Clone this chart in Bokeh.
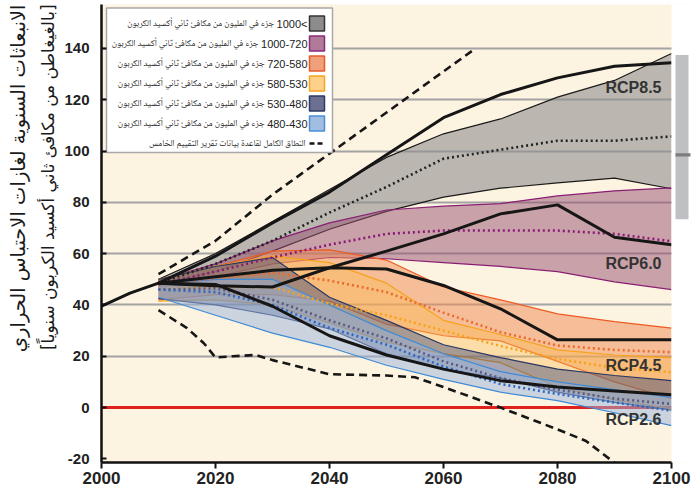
import math
from bokeh.plotting import figure
from bokeh.models import Range1d, FixedTicker, Title
from bokeh.core.properties import value
from bokeh.embed import file_html
from bokeh.resources import INLINE

# ---------------- data ----------------
hist_years = [2000, 2005, 2010]
hist_vals = [39.5, 44.6, 48.5]

years = [2010, 2020, 2030, 2040, 2050, 2060, 2070, 2080, 2090, 2100]

gray_hi = [50, 60, 72.5, 85, 97.5, 106.7, 112.5, 121, 127.5, 138]
gray_lo = [48, 53, 61, 69.5, 76.5, 82, 85.5, 87.6, 89.4, 85.3]
gray_med = [48.5, 56, 65, 76, 86, 97, 100.5, 104, 104, 105.7]

purple_hi = [49.5, 56, 65, 72, 77, 78.5, 79.5, 82.5, 84.5, 85.6]
purple_lo = [47, 51, 56, 58.5, 58, 56.5, 55, 53, 49, 46]
purple_med = [48, 53, 58.5, 63.5, 67.7, 69, 69, 69, 67.7, 64.8]

orange_hi = [50, 55, 61, 61.5, 57.5, 47, 42, 36.5, 33.5, 31]
orange_lo = [42, 44, 44, 41.5, 32.5, 28, 26, 18, 10, 3.5]
orange_med = [48, 50.5, 52.5, 49.5, 45, 37, 29.4, 24.2, 22.5, 21.6]

yellow_hi = [50, 55, 59, 56.5, 48.5, 34, 28.5, 22.5, 20.5, 19.5]
yellow_lo = [41.5, 42, 40, 33, 25.5, 21, 17.5, 8, 3, -0.5]
yellow_med = [46, 47, 47, 40.5, 36, 30, 24, 19, 15.5, 13.8]

navy_hi = [50, 55, 58.5, 43, 34, 24.5, 19.5, 15, 12.5, 10.5]
navy_lo = [42.5, 40, 36, 30.7, 21, 15, 11.5, 6, 2, -1]
navy_med = [46, 46.5, 42, 34, 27, 18, 11.5, 7, 3.5, 1.4]

blue_hi = [48, 50, 50, 40, 30, 21, 14, 10, 7, 4]
blue_lo = [43, 36, 29, 23.5, 16.5, 11, 6, 2.7, -2, -7]
blue_med = [46, 45, 40, 31, 24.5, 16, 9.2, 5.3, 2, -1.2]

rcp85 = [48.5, 59, 72, 84, 98.5, 113, 122, 128.5, 133, 134.4]
rcp60 = [48.5, 47.5, 47, 54.5, 61, 67.7, 75.5, 79, 66.4, 63.5]
rcp45 = [48.5, 51, 53.5, 54.5, 54, 47.6, 38.5, 26.4, 26.4, 26.4]
rcp26 = [48.5, 48, 39.5, 28, 20.5, 15, 10.5, 8, 6.5, 5]

dash_hi_years = [2010, 2020, 2030, 2040, 2050, 2060, 2065]
dash_hi = [52, 65, 83, 99, 115, 131, 139]
dash_lo_years = [2010, 2015, 2018, 2020, 2023, 2027, 2030, 2040, 2050, 2055, 2060, 2070, 2080, 2085, 2090]
dash_lo = [38, 31, 25, 19.5, 20, 20.5, 18.5, 13, 12.5, 11.8, 8, 0, -8.5, -13, -21.5]

zero_level = 0
side_bar = [73.4, 137.4]   # range bar drawn beyond 2100
side_bar_mark = 98.5

x_ticks = [2000, 2020, 2040, 2060, 2080, 2100]
y_ticks = [-20, 0, 20, 40, 60, 80, 100, 120, 140]

rcp_labels = ["RCP8.5", "RCP6.0", "RCP4.5", "RCP2.6"]
rcp_label_vals = [124.8, 56.1, 16.5, -4.7]

legend_nums = ["1000<", "1000-720", "720-580", "580-530", "530-480", "480-430"]
legend_text = "جزء في المليون من مكافئ ثاني أكسيد الكربون"
dash_label = "النطاق الكامل لقاعدة بيانات تقرير التقييم الخامس"
ylabel1 = "الانبعاثات السنوية لغازات الاحتباس الحراري"
ylabel2 = "[بالغيغاطن من مكافئ ثاني أكسيد الكربون سنوياً]"

# ---------------- styles ----------------
bands = [
    (gray_lo, gray_hi, gray_med, "#8f8f8f", 0.6, "#1a1a1a", "#222222", "#8c8c8c", "#333333"),
    (purple_lo, purple_hi, purple_med, "#965070", 0.5, "#8a1e74", "#8a1a78", "#b07a98", "#8a2a7a"),
    (orange_lo, orange_hi, orange_med, "#f08a50", 0.5, "#ec5a24", "#ec6a2c", "#f0a07a", "#e85a2a"),
    (yellow_lo, yellow_hi, yellow_med, "#fdbb50", 0.4, "#f7a21b", "#f7a21b", "#fed18a", "#f6a51f"),
    (navy_lo, navy_hi, navy_med, "#3d4a7a", 0.45, "#2a3766", "#5a5a80", "#6d6f92", "#2b3a66"),
    (blue_lo, blue_hi, blue_med, "#98b4dc", 0.5, "#3f8ad6", "#2d68c0", "#a2bde2", "#4a8fd6"),
]

AR_FONT = "DejaVu Sans"
LEG_FONT = "Noto Naskh Arabic"
NUM_FONT = "Liberation Sans"

BL, BT = 101, 4
FRAME_W, FRAME_H = 591, 458
X0, X1 = 2000, 2000 + FRAME_W / 5.7
Y0, Y1 = -21.4, 157.1


def dx(px):
    return X0 + (px - BL) * (X1 - X0) / FRAME_W


def dy(py):
    return Y1 - (py - BT) * (Y1 - Y0) / FRAME_H


ARIAL_W = {"<": 0.584, "-": 0.333, ".": 0.278}


def num_width(s, size):
    return sum(ARIAL_W.get(c, 0.556) for c in s) * size


p = figure(frame_width=FRAME_W, frame_height=FRAME_H,
           x_range=Range1d(X0, X1), y_range=Range1d(Y0, Y1),
           output_backend="svg", toolbar_location=None,
           min_border_left=BL, min_border_right=0, min_border_top=BT, min_border_bottom=0,
           background_fill_color="#fdf3e1", border_fill_color="white",
           outline_line_color=None)

p.xgrid.grid_line_color = None
p.ygrid.grid_line_color = "#a4a4a4"
p.ygrid.grid_line_width = 2
p.ygrid.ticker = FixedTicker(ticks=[20, 40, 60, 80, 100, 120, 140])

p.xaxis.ticker = FixedTicker(ticks=x_ticks)
p.yaxis.ticker = FixedTicker(ticks=y_ticks)
p.yaxis.major_label_overrides = {-20: "-20"}
p.xaxis.bounds = (2000, 2100)
for ax in (p.xaxis, p.yaxis):
    ax.axis_line_width = 2.5
    ax.axis_line_color = "#111111"
    ax.major_tick_line_color = "#111111"
    ax.major_tick_line_width = 2
    ax.minor_tick_line_color = None
    ax.major_label_text_font = NUM_FONT
    ax.major_label_text_font_style = "bold"
    ax.major_label_text_color = "#222222"
p.xaxis.major_tick_in = 0
p.xaxis.major_tick_out = 6
p.xaxis.major_label_text_font_size = "17px"
p.xaxis.major_label_standoff = 3
p.yaxis.major_tick_in = 5
p.yaxis.major_tick_out = 0
p.yaxis.major_label_text_font_size = "15px"
p.yaxis.major_label_standoff = 12

# y-axis title: two rotated lines at the left, anchored at the top
t2 = Title(text=ylabel2, align="right", offset=0, standoff=8,
           text_font=AR_FONT, text_font_size="17px", text_font_style="normal",
           text_color="#1a1a1a")
t1 = Title(text=ylabel1, align="right", offset=0, standoff=3,
           text_font=AR_FONT, text_font_size="19.5px", text_font_style="normal",
           text_color="#1a1a1a")
p.add_layout(t2, "left")
p.add_layout(t1, "left")

# zero line
p.line([X0, 2100], [zero_level, zero_level], line_color="#e0201c", line_width=3)

# bands
for lo, hi, med, fc, fa, ec, mc, sc, sb in bands:
    p.varea(x=years, y1=lo, y2=hi, fill_color=fc, fill_alpha=fa)
    p.line(years, lo, line_color=ec, line_width=1.2)
    p.line(years, hi, line_color=ec, line_width=1.2)
for lo, hi, med, fc, fa, ec, mc, sc, sb in bands:
    p.line(years, med, line_color=mc, line_width=2.6, line_dash="2 3")

# RCP lines and history
for ser in (rcp85, rcp60, rcp45, rcp26):
    p.line(years, ser, line_color="#161616", line_width=3)
p.line(hist_years, hist_vals, line_color="#161616", line_width=3)

# full database range
p.line(dash_hi_years, dash_hi, line_color="#161616", line_width=2.6, line_dash="8 5")
p.line(dash_lo_years, dash_lo, line_color="#161616", line_width=2.6, line_dash="8 5")

# area beyond 2100 is white, with the side bar
p.quad(left=[2100], right=[X1], bottom=[Y0], top=[Y1], fill_color="white", line_color=None)
p.quad(left=[dx(675)], right=[dx(688)], bottom=[side_bar[0]], top=[side_bar[1]],
       fill_color="#bfc0c4", line_color=None)
p.quad(left=[dx(675)], right=[dx(690)], bottom=[side_bar_mark - 0.6], top=[side_bar_mark + 0.6],
       fill_color="#7c7c80", line_color=None)

# RCP labels
p.text(x=[dx(661)] * 4, y=rcp_label_vals, text=rcp_labels, text_align="right",
       text_baseline="middle", text_font=value(NUM_FONT), text_font_style="bold",
       text_font_size="16px", text_color="#333333")

# legend (swatches on the right, right-to-left text)
row_py = [23, 43, 63, 83, 103, 123, 143]
NUM_SIZE = 11
p.quad(left=[dx(106)], right=[dx(332)], top=[dy(7.5)], bottom=[dy(152)],
       fill_color="white", line_color="#a8a8a8", line_width=1.5)
for i, b in enumerate(bands):
    p.quad(left=[dx(309)], right=[dx(324)], top=[dy(row_py[i] - 7.5)], bottom=[dy(row_py[i] + 7.5)],
           fill_color=b[7], line_color=b[8], line_width=1.5)
p.line([dx(309), dx(324)], [dy(row_py[6])] * 2, line_color="#161616", line_width=2.5, line_dash="5 3")
p.text(x=[dx(307)] * 6, y=[dy(r) for r in row_py[:6]], text=legend_nums,
       text_align="right", text_baseline="middle", text_font=value(NUM_FONT),
       text_font_size=f"{NUM_SIZE}px", text_color="#222222")
p.text(x=[dx(307 - num_width(n, NUM_SIZE) - 2.5) for n in legend_nums],
       y=[dy(r) for r in row_py[:6]], text=[legend_text] * 6,
       text_align="right", text_baseline="middle", text_font=value(LEG_FONT),
       text_font_size="9px", text_color="#222222")
p.text(x=[dx(305)], y=[dy(row_py[6])], text=[dash_label],
       text_align="right", text_baseline="middle", text_font=value(LEG_FONT),
       text_font_size="9px", text_color="#222222")

open("out.html", "w").write(file_html(p, INLINE))
